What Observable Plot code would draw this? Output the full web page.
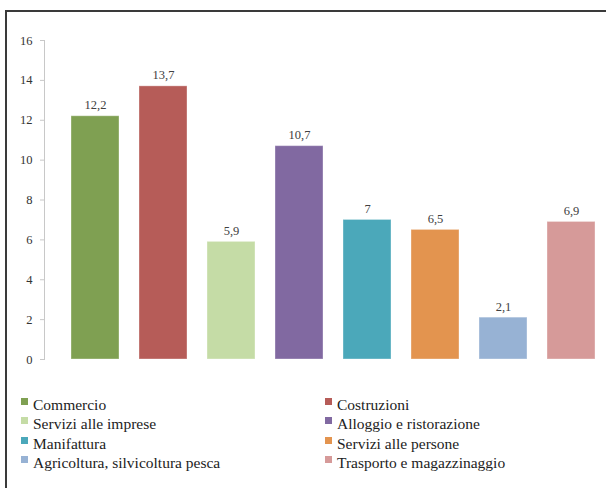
<!DOCTYPE html>
<html>
<head>
<meta charset="utf-8">
<script src="https://cdn.jsdelivr.net/npm/d3@7"></script>
<script src="https://cdn.jsdelivr.net/npm/@observablehq/plot@0.6"></script>
<style>
  html, body { margin: 0; padding: 0; background: #fff; overflow: hidden; width: 606px; height: 488px; }
  #frame { position: absolute; left: 5px; top: 10px; width: 640px; height: 520px; border: 2px solid #3a3a3a; box-sizing: border-box; }
  #chart { position: absolute; left: 0; top: 0; width: 620px; }
  #chart svg { max-width: none !important; width: 620px; height: 380px; }
  #legend { position: absolute; left: 21px; top: 395px; display: grid; grid-template-columns: 304px 280px; grid-auto-rows: 19.3px;
            font-size: 15.5px; color: #222; }
  .item { white-space: nowrap; line-height: 19.3px; }
  .sw { display: inline-block; width: 7px; height: 7px; margin-right: 5px; vertical-align: 5px; }
</style>
</head>
<body>
<div id="frame"></div>
<div id="chart"></div>
<div id="legend"></div>
<script>
const categories = ["Commercio", "Costruzioni", "Servizi alle imprese", "Alloggio e ristorazione", "Manifattura", "Servizi alle persone", "Agricoltura, silvicoltura pesca", "Trasporto e magazzinaggio"];
const values = [12.2, 13.7, 5.9, 10.7, 7, 6.5, 2.1, 6.9];
const colors = ["#7FA052", "#B65C58", "#C5DCA6", "#8169A1", "#4BA8BA", "#E3944F", "#97B2D4", "#D69A99"];
const yTicks = [0, 2, 4, 6, 8, 10, 12, 14, 16];

const data = categories.map((c, i) => ({category: c, value: values[i], color: colors[i]}));
const fmt = v => String(v).replace(".", ",");

// pick the first installed serif face
const ctx = document.createElement("canvas").getContext("2d");
const probe = "Commercio mmmwwwiiilll 0123456789";
function has(name) {
  ctx.font = "20px monospace"; const a = ctx.measureText(probe).width;
  ctx.font = `20px "${name}", monospace`; const b = ctx.measureText(probe).width;
  return Math.abs(a - b) > 0.5;
}
const candidates = ["Liberation Serif", "Tinos", "Times New Roman", "DejaVu Serif", "Noto Serif", "FreeSerif", "Noto Serif CJK SC", "Noto Serif CJK JP"];
const found = candidates.find(has);
const serif = (found ? `"${found}", ` : "") + "serif";
document.getElementById("legend").style.fontFamily = serif;

const chart = Plot.plot({
  width: 620,
  height: 380,
  marginTop: 40,
  marginBottom: 21,
  marginLeft: 44,
  marginRight: 0,
  style: {fontFamily: serif, fontSize: "12.5px", color: "#333", background: "transparent", maxWidth: "none"},
  x: {domain: categories, range: [47.7, 617.3], padding: 0.3, axis: null},
  y: {domain: [0, 16], ticks: yTicks, label: null},
  marks: [
    Plot.frame({anchor: "left", stroke: "#c8c8c8"}),
    Plot.axisY({ticks: yTicks, tickSize: 4, tickPadding: 8, stroke: "#c8c8c8", label: null, fill: "#333", fontSize: 12.5}),
    Plot.barY(data, {x: "category", y: "value", fill: "color", stroke: "#ffffff", strokeOpacity: 0.35, strokeWidth: 1}),
    Plot.ruleY([0], {stroke: "#d4d4d4", x1: 40, x2: 620}),
    Plot.text(data, {x: "category", y: "value", text: d => fmt(d.value), dy: -11, fill: "#404040", fontSize: 12.5})
  ]
});
document.getElementById("chart").appendChild(chart);

const legend = d3.select("#legend");
data.forEach(d => {
  const item = legend.append("div").attr("class", "item");
  item.append("span").attr("class", "sw").style("background", d.color);
  item.append("span").text(d.category);
});
</script>
</body>
</html>
